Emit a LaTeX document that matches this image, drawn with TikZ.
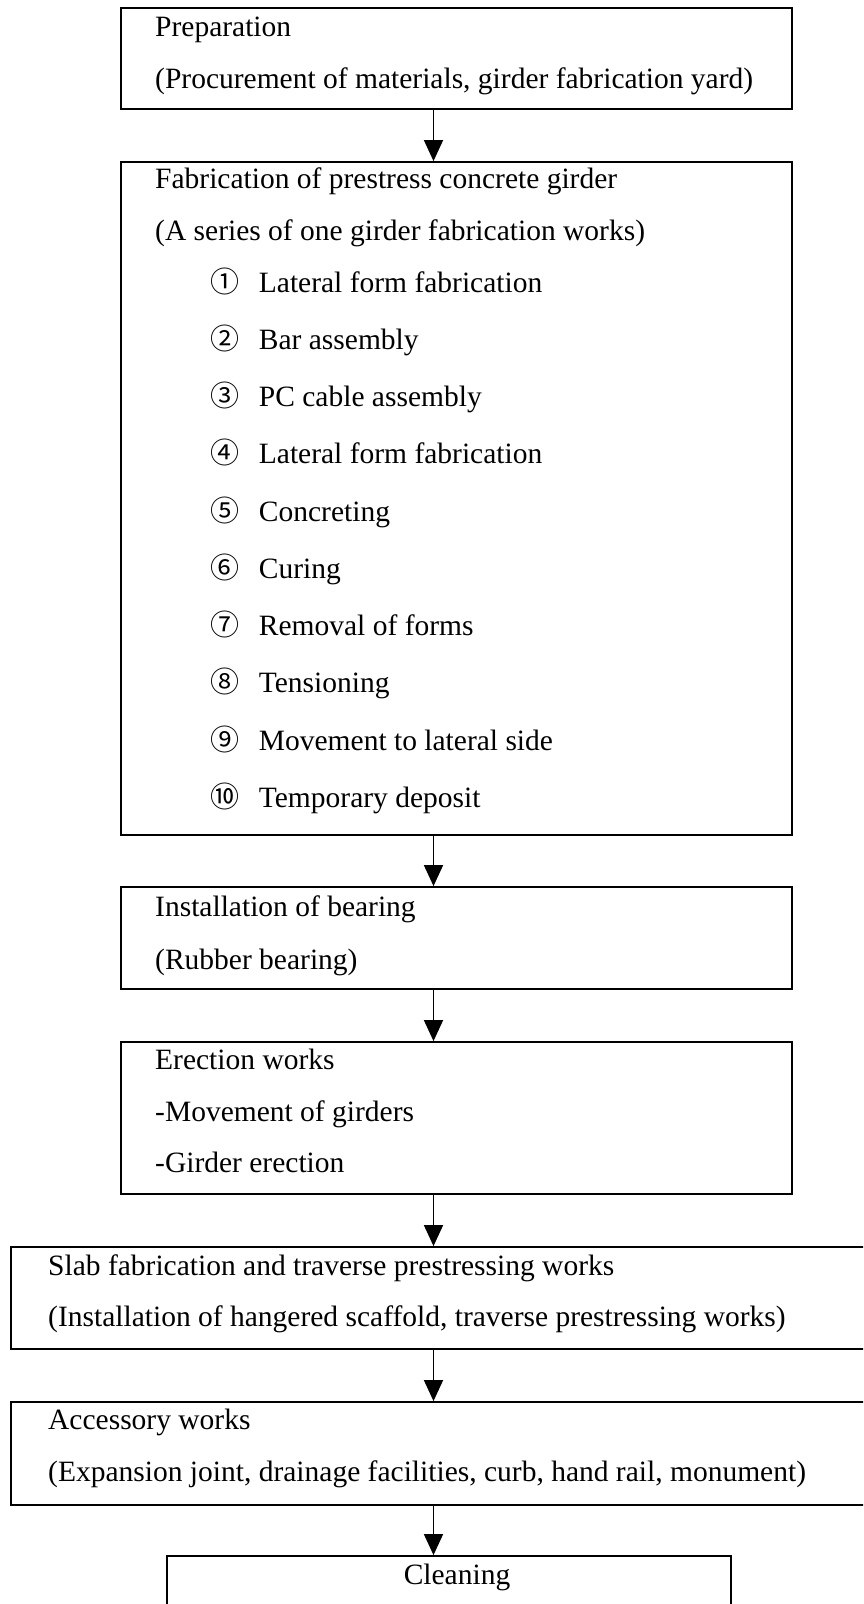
\documentclass[tikz,border=0pt]{standalone}
\usepackage{fontspec}
\setmainfont{Liberation Serif}
\newfontfamily\cjkfont{Noto Sans CJK JP}
\usetikzlibrary{positioning,arrows.meta,calc}

\begin{document}
\begin{tikzpicture}[x=1pt,y=-1pt,>={Triangle[length=21pt,width=19pt]},
  box/.style={draw,line width=1.8pt,inner sep=0pt},
  txt/.style={anchor=base west,inner sep=0pt,font=\fontsize{29.5}{34}\selectfont},
  num/.style={anchor=base west,inner sep=0pt,font=\cjkfont\fontsize{29}{34}\selectfont},
  flow/.style={->,line width=1.6pt}]
\useasboundingbox (0,0) rectangle (863,1604);
\clip (0,0) rectangle (863,1604);
\node[box,minimum width=671pt,minimum height=101pt] (prep) at (456.5,58.5) {};
\node[box,minimum width=671pt,minimum height=673pt] (fab) at (456.5,498.5) {};
\node[box,minimum width=671pt,minimum height=102pt] (bear) at (456.5,938) {};
\node[box,minimum width=671pt,minimum height=152pt] (erect) at (456.5,1118) {};
\node[box,minimum width=890pt,minimum height=102pt] (slab) at (456,1298) {};
\node[box,minimum width=890pt,minimum height=103pt] (acc) at (456,1453.5) {};
\node[box,minimum width=564pt,minimum height=85pt] (clean) at (449,1598.5) {};
\coordinate (ax) at (433.5,0);
\node[txt] (t1a) at (155,36) {Preparation};
\node[txt] (t1b) at (155,88) {(Procurement of materials, girder fabrication yard)};
\node[txt] (t2a) at (155,188) {Fabrication of prestress concrete girder};
\node[txt] (t2b) at (155,240) {(A series of one girder fabrication works)};
\foreach \n/\lbl [count=\i from 0] in {①/Lateral form fabrication,②/Bar assembly,③/PC cable assembly,④/Lateral form fabrication,⑤/Concreting,⑥/Curing,⑦/Removal of forms,⑧/Tensioning,⑨/Movement to lateral side,⑩/Temporary deposit}{
  \node[num] (n\i) at (210,292.2+57.25*\i) {\n};
  \node[txt] (s\i) at (258.7,292.2+57.25*\i) {\lbl};
}
\node[txt] (t3a) at (155,916) {Installation of bearing};
\node[txt] (t3b) at (155,969) {(Rubber bearing)};
\node[txt] (t4a) at (155,1069) {Erection works};
\node[txt] (t4b) at (155,1121) {-Movement of girders};
\node[txt] (t4c) at (155,1172) {-Girder erection};
\node[txt] (t5a) at (48,1275) {Slab fabrication and traverse prestressing works};
\node[txt] (t5b) at (48,1326) {(Installation of hangered scaffold, traverse prestressing works)};
\node[txt] (t6a) at (48,1429) {Accessory works};
\node[txt] (t6b) at (48,1481) {(Expansion joint, drainage facilities, curb, hand rail, monument)};
\node[txt,anchor=base] (t7) at (457,1584) {Cleaning};
\draw[flow] (prep.south -| ax) -- (fab.north -| ax);
\draw[flow] (fab.south -| ax) -- (bear.north -| ax);
\draw[flow] (bear.south -| ax) -- (erect.north -| ax);
\draw[flow] (erect.south -| ax) -- (slab.north -| ax);
\draw[flow] (slab.south -| ax) -- (acc.north -| ax);
\draw[flow] (acc.south -| ax) -- (clean.north -| ax);
\end{tikzpicture}
\end{document}
